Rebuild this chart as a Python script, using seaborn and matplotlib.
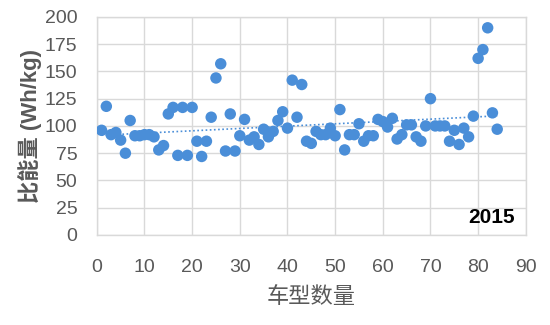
import numpy as np
import pandas as pd
import matplotlib
matplotlib.use("Agg")
import matplotlib.pyplot as plt
import seaborn as sns

# Data
model_index = list(range(1, 85))
energy = [96, 118, 92, 94, 87, 75, 105, 91, 91, 92,
          92, 90, 78, 82, 111, 117, 73, 117, 73, 117,
          86, 72, 86, 108, 144, 157, 77, 111, 77, 91,
          106, 87, 90, 83, 97, 90, 95, 105, 113, 98,
          142, 108, 138, 86, 84, 95, 92, 92, 98, 91,
          115, 78, 92, 92, 102, 86, 91, 91, 106, 104,
          99, 107, 88, 92, 101, 101, 90, 86, 100, 125,
          100, 100, 100, 86, 96, 83, 98, 90, 109, 162,
          170, 190, 112, 97]
x_ticks = [0, 10, 20, 30, 40, 50, 60, 70, 80, 90]
y_ticks = [0, 25, 50, 75, 100, 125, 150, 175, 200]
x_label = "车型数量"
y_label = "比能量 (Wh/kg)"
year_text = "2015"

df = pd.DataFrame({"x": model_index, "y": energy})

sns.set_theme(style="white")
plt.rcParams['font.family'] = ['Liberation Sans Narrow', 'Liberation Sans', 'Noto Sans CJK SC', 'DejaVu Sans']

fig = plt.figure(figsize=(5.5, 3.25), dpi=100)
ax = fig.add_axes([0.176, 0.277, 0.78, 0.671])

blue = "#4A8ED8"
sns.scatterplot(data=df, x="x", y="y", ax=ax, color=blue, s=68,
                edgecolor="none", zorder=3)

# linear trend line (dotted)
coef = np.polyfit(df["x"], df["y"], 1)
xs = np.array([df["x"].min(), df["x"].max()])
ax.plot(xs, np.polyval(coef, xs), linestyle=(0, (1, 1.5)), color=blue,
        linewidth=1.2, zorder=2)

ax.set_xlim(0, 90)
ax.set_ylim(0, 200)
ax.set_xticks(x_ticks)
ax.set_yticks(y_ticks)
ax.grid(True, color="#D9D9D9", linewidth=1.0)
ax.set_axisbelow(True)
for sp in ax.spines.values():
    sp.set_color("#D9D9D9")
    sp.set_linewidth(1.0)

ax.tick_params(axis="both", length=0, labelsize=14, labelcolor="#595959")
ax.tick_params(axis="y", pad=14)
ax.tick_params(axis="x", pad=17)

ax.set_xlabel(x_label, fontsize=16, color="#595959",
              family=['Noto Sans CJK SC', 'DejaVu Sans'], labelpad=7)
ax.set_ylabel(y_label, fontsize=16, color="#595959", fontweight="bold",
              family=['Liberation Sans', 'Noto Sans CJK SC', 'DejaVu Sans'], labelpad=2)

ax.text(0.975, 0.035, year_text, transform=ax.transAxes, ha="right", va="bottom",
        fontsize=15, fontweight="bold", color="black",
        family=['Liberation Sans Narrow', 'Liberation Sans'])

fig.savefig("out.png", dpi=100, facecolor="white")
